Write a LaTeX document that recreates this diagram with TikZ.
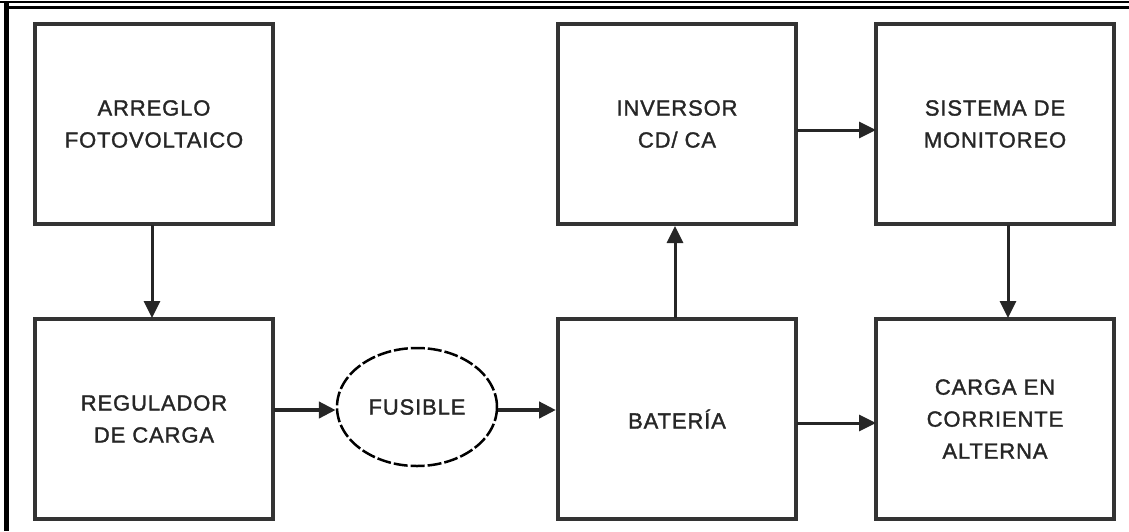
\documentclass[tikz,border=0pt]{standalone}
\usepackage{fontspec}
\setmainfont{Liberation Sans}[LetterSpace=4, FakeBold=1.5]
\usepackage{tikz}
\usetikzlibrary{arrows.meta,shapes.geometric}

\tikzset{
  bloque/.style={draw=black!80, line width=3.5pt, minimum width=238pt, minimum height=200pt,
    align=center, font=\fontsize{22}{32}\selectfont, text=black!85},
  flecha/.style={draw=black!85, line width=3pt, -{Triangle[length=17pt,width=16pt]}},
  gruesa/.style={flecha, line width=4.5pt}
}

\begin{document}
\begin{tikzpicture}[x=1pt,y=-1pt]
\useasboundingbox (0,0) rectangle (1129,531);

% ---- Frame ----
\draw[line width=4.5pt] (6.5,3) -- (6.5,531);
\draw[line width=2.5pt] (0,2) -- (1129,2);
\draw[line width=2.5pt] (4,7.5) -- (1129,7.5);

% ---- Blocks ----
\node[bloque] (arreglo)   at (154,124) {ARREGLO\\FOTOVOLTAICO};
\node[bloque] (regulador) at (154,419) {REGULADOR\\DE CARGA};
\node[bloque] (bateria)   at (677,419) {BATERÍA};
\node[bloque] (inversor)  at (677,124) {INVERSOR\\CD/ CA};
\node[bloque] (monitoreo) at (995,124) {SISTEMA DE\\MONITOREO};
\node[bloque] (cargaca)   at (995,419) {CARGA EN\\CORRIENTE\\ALTERNA};

% ---- Fuse ----
\node[ellipse, draw, line width=2.5pt, dash pattern=on 14pt off 3pt,
  minimum width=160pt, minimum height=118pt,
  font=\fontsize{22}{32}\selectfont, text=black!85] (fusible) at (417,407) {FUSIBLE};

% ---- Connectors ----
\coordinate (a1) at (152,225);
\coordinate (a2) at (152,318);
\draw[flecha] (a1) -- (a2);

\coordinate (r1) at (274,410);
\draw[gruesa] (r1) -- (fusible.west |- r1);
\coordinate (f1) at (556,410);
\draw[gruesa] (fusible.east |- f1) -- (f1);

\coordinate (b1) at (675,318);
\coordinate (b2) at (675,226);
\draw[flecha] (b1) -- (b2);

\coordinate (i1) at (797,130);
\coordinate (i2) at (876,130);
\draw[flecha] (i1) -- (i2);

\coordinate (m1) at (1008,225);
\coordinate (m2) at (1008,318);
\draw[flecha] (m1) -- (m2);

\coordinate (c1) at (797,423);
\coordinate (c2) at (876,423);
\draw[flecha] (c1) -- (c2);

\end{tikzpicture}
\end{document}
